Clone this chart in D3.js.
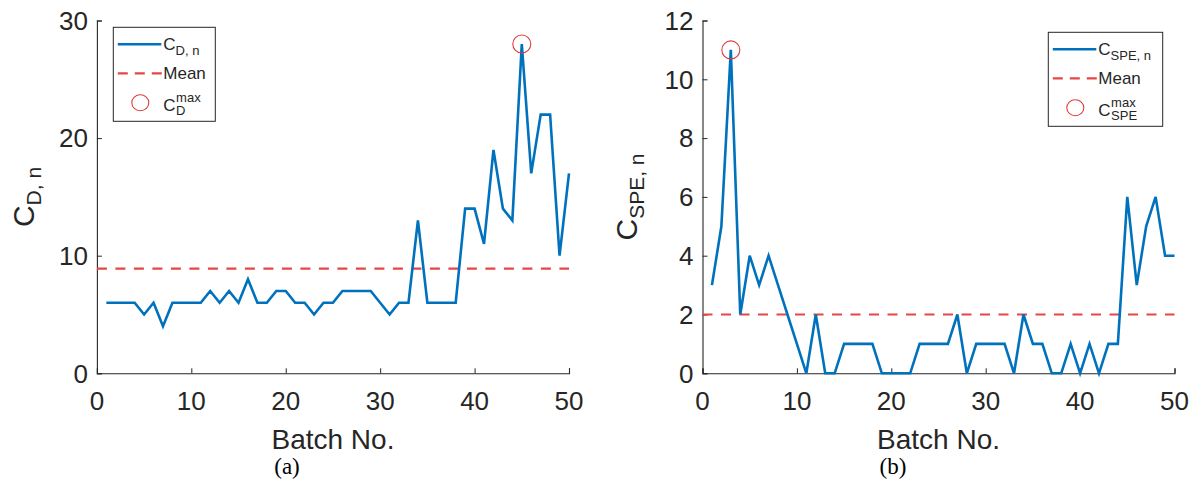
<!DOCTYPE html>
<html>
<head>
<meta charset="utf-8">
<script src="https://cdn.jsdelivr.net/npm/d3@7"></script>
<style>
  html, body { margin: 0; padding: 0; background: #fff; }
  svg { display: block; }
  text { font-family: "Liberation Sans", Arial, Helvetica, sans-serif; fill: #262626; }
  .cap { font-family: "Liberation Serif", "Times New Roman", serif; fill: #000; }
</style>
</head>
<body>
<svg id="chart" width="1199" height="486"></svg>
<script>
// Batch numbers and the two per-batch count series
const batches = [1,2,3,4,5,6,7,8,9,10,11,12,13,14,15,16,17,18,19,20,21,22,23,24,25,
                 26,27,28,29,30,31,32,33,34,35,36,37,38,39,40,41,42,43,44,45,46,47,48,49,50];
const cD   = [6,6,6,6,5,6,4,6,6,6, 6,7,6,7,6,8,6,6,7,7, 6,6,5,6,6,7,7,7,7,6,
              5,6,6,13,6,6,6,6,14,14, 11,19,14,13,28,17,22,22,10,17];
const cSPE = [3,5,11,2,4,3,4,3,2,1, 0,2,0,0,1,1,1,1,0,0, 0,0,1,1,1,1,2,0,1,1,
              1,1,0,2,1,1,0,0,1,0, 1,0,1,1,6,3,5,6,4,4];
const meanD = 8.9;
const meanSPE = 2.0;
const xTicks = [0,10,20,30,40,50];
const yTicksD = [0,10,20,30];
const yTicksSPE = [0,2,4,6,8,10,12];

const BLUE = "#0072BD", RED = "#e84646", MARK = "#dc3c3c", AX = "#262626";

const svg = d3.select("#chart");

// text at (x,y), optionally rotated; content is a string or a list of runs {t, size, dy}
function stext(parent, x, y, anchor, size, content, cls, rot) {
  const g = parent.append("g")
    .attr("transform", `translate(${x},${y})` + (rot ? ` rotate(${rot})` : ""));
  const t = g.append("text").attr("text-anchor", anchor).attr("font-size", size);
  if (cls) t.attr("class", cls);
  if (typeof content === "string") t.text(content);
  else content.forEach(p => {
    t.append("tspan").attr("font-size", p.size || size).attr("dy", p.dy || 0).text(p.t);
  });
  return t;
}

function panel(cfg) {
  const x = d3.scaleLinear().domain([0, 50]).range([cfg.x0, cfg.x1]);
  const y = d3.scaleLinear().domain([0, cfg.ymax]).range([373.3, 20.5]);
  const g = svg.append("g");

  // axes (left and bottom only, ticks pointing inward)
  const xa = g.append("g").attr("transform", `translate(0,${y(0)})`)
    .call(d3.axisBottom(x).tickValues(xTicks).tickSize(-5).tickFormat(""));
  const ya = g.append("g").attr("transform", `translate(${x(0)},0)`)
    .call(d3.axisLeft(y).tickValues(cfg.yTicks).tickSize(-5).tickFormat(""));
  [xa, ya].forEach(a => {
    a.select(".domain").attr("stroke", AX).attr("stroke-width", 1.1);
    a.selectAll(".tick line").attr("stroke", AX).attr("stroke-width", 1);
  });

  // tick labels
  xTicks.forEach(v => stext(g, x(v), 410, "middle", 26, String(v)));
  cfg.yTicks.forEach(v => stext(g, x(0) - 9, y(v) + 9.3, "end", 26, String(v)));

  // mean line
  g.append("line")
    .attr("x1", x(0)).attr("x2", x(50))
    .attr("y1", y(cfg.mean)).attr("y2", y(cfg.mean))
    .attr("stroke", RED).attr("stroke-width", 2.2).attr("stroke-dasharray", "10,8.5");

  // series
  g.append("path")
    .datum(cfg.data)
    .attr("fill", "none").attr("stroke", BLUE).attr("stroke-width", 2.6)
    .attr("stroke-linejoin", "miter")
    .attr("d", d3.line().x((d, i) => x(batches[i])).y(d => y(d)));

  // maximum marker
  const im = d3.maxIndex(cfg.data);
  g.append("circle")
    .attr("cx", x(batches[im])).attr("cy", y(cfg.data[im])).attr("r", 9)
    .attr("fill", "none").attr("stroke", MARK).attr("stroke-width", 1.1);

  // axis labels and caption
  const cx = (cfg.x0 + cfg.x1) / 2;
  stext(g, cx, 449, "middle", 28, "Batch No.");
  stext(g, cfg.capX, 474, "middle", 23, cfg.cap, "cap");
  stext(g, cfg.ylabX, 197, "middle", 30,
        [{t: "C"}, {t: cfg.sub + ", n", size: 21, dy: 7}], null, -90);

  // legend
  const L = cfg.leg;
  g.append("rect").attr("x", L.x).attr("y", L.y).attr("width", L.w).attr("height", 94)
    .attr("fill", "#fff").attr("stroke", AX).attr("stroke-width", 1);
  const r1 = L.y + 17, r2 = L.y + 46, r3 = L.y + 75.5;
  g.append("line").attr("x1", L.x + 4.5).attr("x2", L.x + 48).attr("y1", r1).attr("y2", r1)
    .attr("stroke", BLUE).attr("stroke-width", 2.6);
  g.append("line").attr("x1", L.x + 4.5).attr("x2", L.x + 48.5).attr("y1", r2).attr("y2", r2)
    .attr("stroke", RED).attr("stroke-width", 2.2).attr("stroke-dasharray", "10,7");
  g.append("ellipse").attr("cx", L.x + 27).attr("cy", r3).attr("rx", 8.5).attr("ry", 8)
    .attr("fill", "none").attr("stroke", MARK).attr("stroke-width", 1.1);

  const tx = L.x + 50;
  stext(g, tx, r1 + 6, "start", 17, [{t: "C"}, {t: cfg.sub + ", n", size: 13, dy: 5}]);
  stext(g, tx, r2 + 6, "start", 17, "Mean");
  const c = stext(g, tx, r3 + 8.5, "start", 17, "C");
  const cw = c.node().getComputedTextLength();
  stext(g, tx + cw + 0.5, r3 - 1, "start", 13, "max");
  stext(g, tx + cw + 0.5, r3 + 12.5, "start", 13, cfg.sub);
}

panel({ x0: 96.9, x1: 569, ymax: 30, yTicks: yTicksD, data: cD, mean: meanD,
        sub: "D", cap: "(a)", capX: 287, ylabX: 34,
        leg: { x: 113.3, y: 27.3, w: 102 } });
panel({ x0: 702.5, x1: 1174.5, ymax: 12, yTicks: yTicksSPE, data: cSPE, mean: meanSPE,
        sub: "SPE", cap: "(b)", capX: 893, ylabX: 637,
        leg: { x: 1048.3, y: 32.3, w: 114.4 } });
</script>
</body>
</html>
